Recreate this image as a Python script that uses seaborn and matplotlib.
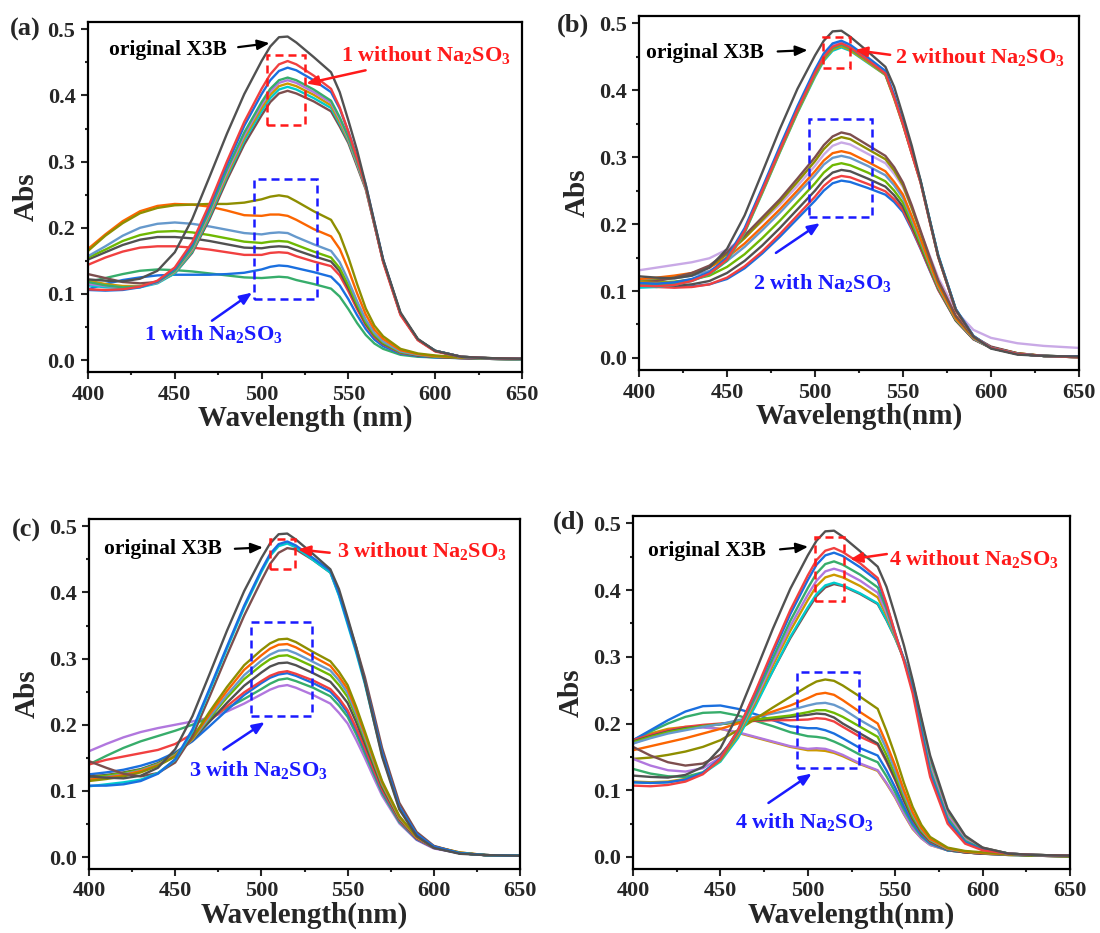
import numpy as np
import pandas as pd
import matplotlib
matplotlib.use("Agg")
import matplotlib.pyplot as plt
import matplotlib.patches as patches
from matplotlib.ticker import MultipleLocator, FormatStrFormatter
import seaborn as sns

# ---------------- data ----------------
WAVELENGTH = [400, 410, 420, 430, 440, 450, 460, 470, 480, 490, 500, 505, 510, 515,
              520, 530, 540, 545, 550, 555, 560, 565, 570, 580, 590, 600, 615, 630, 650]

ORIGINAL_X3B = [0.122, 0.120, 0.119, 0.123, 0.135, 0.163, 0.213, 0.277, 0.342, 0.402, 0.452, 0.474, 0.488, 0.489, 0.480, 0.458, 0.435,
                0.405, 0.362, 0.317, 0.265, 0.208, 0.152, 0.072, 0.032, 0.014, 0.005, 0.003, 0.002]

# ---- panel (a) ----
A_WO_RED = [0.107, 0.106, 0.107, 0.111, 0.120, 0.140, 0.178, 0.236, 0.300, 0.360, 0.410, 0.432, 0.447, 0.452, 0.447, 0.430, 0.410,
            0.382, 0.345, 0.305, 0.262, 0.205, 0.148, 0.068, 0.030, 0.013, 0.005, 0.003, 0.002]
A_WO_BLUE = [0.106, 0.105, 0.106, 0.110, 0.119, 0.138, 0.175, 0.232, 0.295, 0.354, 0.402, 0.423, 0.437, 0.442, 0.438, 0.423, 0.405,
             0.380, 0.345, 0.307, 0.265, 0.208, 0.152, 0.070, 0.031, 0.014, 0.005, 0.003, 0.002]
A_WO_GREEN = [0.118, 0.113, 0.110, 0.111, 0.118, 0.135, 0.170, 0.226, 0.288, 0.344, 0.390, 0.410, 0.423, 0.427, 0.423, 0.409, 0.392,
              0.367, 0.337, 0.300, 0.262, 0.206, 0.150, 0.070, 0.031, 0.014, 0.005, 0.003, 0.002]
A_WO_PURPLE = [0.115, 0.112, 0.110, 0.111, 0.117, 0.134, 0.168, 0.223, 0.284, 0.340, 0.386, 0.406, 0.419, 0.423, 0.419, 0.405, 0.389,
               0.364, 0.335, 0.298, 0.261, 0.205, 0.150, 0.070, 0.031, 0.014, 0.005, 0.003, 0.002]
A_WO_MUSTARD = [0.120, 0.115, 0.112, 0.112, 0.117, 0.133, 0.166, 0.220, 0.280, 0.336, 0.381, 0.401, 0.414, 0.418, 0.414, 0.401, 0.385,
                0.360, 0.333, 0.297, 0.260, 0.205, 0.150, 0.070, 0.031, 0.014, 0.005, 0.003, 0.002]
A_WO_CYAN = [0.113, 0.110, 0.109, 0.110, 0.116, 0.131, 0.164, 0.217, 0.277, 0.332, 0.376, 0.396, 0.409, 0.413, 0.409, 0.396, 0.381,
             0.357, 0.331, 0.296, 0.260, 0.205, 0.150, 0.070, 0.031, 0.014, 0.005, 0.003, 0.002]
A_WO_BROWN = [0.130, 0.124, 0.118, 0.116, 0.118, 0.131, 0.162, 0.213, 0.272, 0.326, 0.370, 0.390, 0.403, 0.407, 0.403, 0.391, 0.376,
              0.353, 0.328, 0.293, 0.258, 0.204, 0.150, 0.070, 0.031, 0.014, 0.005, 0.003, 0.002]
A_W_OLIVE = [0.165, 0.188, 0.207, 0.222, 0.230, 0.234, 0.235, 0.236, 0.236, 0.238, 0.243, 0.247, 0.249, 0.247, 0.240, 0.225, 0.212,
             0.190, 0.155, 0.115, 0.078, 0.052, 0.036, 0.017, 0.010, 0.007, 0.004, 0.003, 0.002]
A_W_ORANGE = [0.168, 0.190, 0.210, 0.225, 0.233, 0.236, 0.235, 0.232, 0.226, 0.219, 0.218, 0.220, 0.220, 0.218, 0.212, 0.198, 0.187,
              0.168, 0.137, 0.101, 0.069, 0.046, 0.032, 0.015, 0.009, 0.006, 0.004, 0.003, 0.002]
A_W_STEEL = [0.157, 0.172, 0.188, 0.200, 0.206, 0.208, 0.206, 0.202, 0.197, 0.192, 0.190, 0.192, 0.193, 0.192, 0.186, 0.175, 0.165,
             0.148, 0.120, 0.089, 0.061, 0.041, 0.028, 0.013, 0.008, 0.006, 0.004, 0.002, 0.001]
A_W_LIME = [0.155, 0.167, 0.180, 0.189, 0.194, 0.195, 0.193, 0.189, 0.184, 0.179, 0.177, 0.179, 0.180, 0.179, 0.174, 0.164, 0.155,
            0.139, 0.113, 0.084, 0.057, 0.038, 0.026, 0.012, 0.008, 0.005, 0.004, 0.002, 0.001]
A_W_GRAY = [0.152, 0.163, 0.174, 0.182, 0.186, 0.186, 0.184, 0.180, 0.175, 0.170, 0.169, 0.171, 0.172, 0.171, 0.166, 0.157, 0.149,
            0.134, 0.109, 0.081, 0.055, 0.037, 0.025, 0.012, 0.007, 0.005, 0.003, 0.002, 0.001]
A_W_RED = [0.144, 0.155, 0.164, 0.170, 0.172, 0.172, 0.170, 0.167, 0.163, 0.159, 0.159, 0.162, 0.163, 0.162, 0.157, 0.149, 0.142,
           0.128, 0.104, 0.077, 0.053, 0.035, 0.024, 0.011, 0.007, 0.005, 0.003, 0.002, 0.001]
A_W_BLUE = [0.107, 0.115, 0.121, 0.125, 0.128, 0.129, 0.129, 0.129, 0.130, 0.132, 0.137, 0.141, 0.143, 0.142, 0.139, 0.133, 0.126,
            0.113, 0.092, 0.068, 0.047, 0.031, 0.021, 0.010, 0.006, 0.004, 0.003, 0.002, 0.001]
A_W_GREEN = [0.118, 0.124, 0.130, 0.135, 0.137, 0.136, 0.134, 0.131, 0.128, 0.125, 0.124, 0.125, 0.126, 0.125, 0.121, 0.115, 0.108,
             0.096, 0.077, 0.056, 0.038, 0.025, 0.017, 0.008, 0.005, 0.004, 0.003, 0.002, 0.001]

# ---- panel (b) ----
B_WO_BLUE = [0.112, 0.111, 0.113, 0.118, 0.128, 0.150, 0.194, 0.254, 0.316, 0.376, 0.431, 0.455, 0.470, 0.474, 0.468, 0.449, 0.429,
             0.393, 0.352, 0.308, 0.264, 0.208, 0.153, 0.073, 0.033, 0.015, 0.006, 0.003, 0.002]
B_WO_PURPLE = [0.109, 0.109, 0.111, 0.116, 0.127, 0.148, 0.192, 0.252, 0.313, 0.373, 0.428, 0.452, 0.467, 0.471, 0.465, 0.446, 0.426,
               0.390, 0.350, 0.306, 0.263, 0.207, 0.152, 0.072, 0.032, 0.015, 0.006, 0.003, 0.001]
B_WO_RED = [0.108, 0.107, 0.109, 0.115, 0.126, 0.147, 0.190, 0.250, 0.311, 0.371, 0.426, 0.450, 0.465, 0.470, 0.464, 0.445, 0.425,
            0.389, 0.349, 0.305, 0.262, 0.206, 0.151, 0.071, 0.032, 0.015, 0.006, 0.003, 0.001]
B_WO_GREEN = [0.111, 0.110, 0.111, 0.116, 0.126, 0.146, 0.189, 0.249, 0.310, 0.369, 0.424, 0.448, 0.463, 0.468, 0.462, 0.444, 0.424,
              0.389, 0.349, 0.306, 0.263, 0.207, 0.152, 0.072, 0.032, 0.015, 0.006, 0.003, 0.001]
B_WO_MUSTARD = [0.113, 0.112, 0.113, 0.117, 0.126, 0.146, 0.188, 0.247, 0.308, 0.367, 0.422, 0.446, 0.461, 0.466, 0.460, 0.442, 0.423,
                0.387, 0.348, 0.305, 0.262, 0.206, 0.151, 0.071, 0.032, 0.015, 0.006, 0.003, 0.001]
B_WO_CYAN = [0.105, 0.106, 0.109, 0.115, 0.125, 0.145, 0.187, 0.246, 0.307, 0.366, 0.420, 0.444, 0.459, 0.464, 0.459, 0.441, 0.423,
             0.389, 0.350, 0.307, 0.265, 0.209, 0.154, 0.073, 0.033, 0.015, 0.006, 0.003, 0.001]
B_W_BROWN = [0.112, 0.115, 0.120, 0.127, 0.138, 0.158, 0.183, 0.210, 0.237, 0.268, 0.300, 0.318, 0.331, 0.337, 0.334, 0.318, 0.302,
             0.285, 0.262, 0.228, 0.190, 0.152, 0.116, 0.063, 0.032, 0.017, 0.007, 0.003, 0.002]
B_W_OLIVE = [0.114, 0.116, 0.120, 0.126, 0.136, 0.155, 0.179, 0.206, 0.233, 0.263, 0.294, 0.312, 0.325, 0.330, 0.327, 0.312, 0.297,
             0.280, 0.258, 0.224, 0.187, 0.150, 0.114, 0.062, 0.031, 0.016, 0.007, 0.003, 0.002]
B_W_LILAC = [0.131, 0.135, 0.139, 0.143, 0.149, 0.162, 0.181, 0.204, 0.229, 0.257, 0.287, 0.304, 0.317, 0.322, 0.319, 0.305, 0.291,
             0.275, 0.255, 0.223, 0.188, 0.154, 0.120, 0.070, 0.042, 0.030, 0.022, 0.018, 0.015]
B_W_ORANGE = [0.118, 0.120, 0.123, 0.127, 0.135, 0.150, 0.171, 0.196, 0.222, 0.250, 0.279, 0.295, 0.306, 0.309, 0.306, 0.293, 0.279,
              0.263, 0.244, 0.212, 0.178, 0.143, 0.109, 0.059, 0.030, 0.016, 0.007, 0.003, 0.002]
B_W_STEEL = [0.116, 0.117, 0.119, 0.123, 0.130, 0.145, 0.166, 0.191, 0.217, 0.245, 0.273, 0.289, 0.299, 0.302, 0.299, 0.287, 0.273,
             0.258, 0.239, 0.208, 0.175, 0.141, 0.107, 0.058, 0.029, 0.015, 0.006, 0.003, 0.002]
B_W_LIME = [0.113, 0.113, 0.114, 0.117, 0.123, 0.136, 0.155, 0.179, 0.205, 0.233, 0.261, 0.277, 0.288, 0.291, 0.288, 0.277, 0.264,
            0.250, 0.232, 0.202, 0.170, 0.137, 0.105, 0.057, 0.029, 0.015, 0.006, 0.003, 0.002]
B_W_GRAY = [0.109, 0.108, 0.108, 0.110, 0.115, 0.127, 0.145, 0.168, 0.194, 0.222, 0.250, 0.266, 0.277, 0.281, 0.279, 0.268, 0.256,
            0.243, 0.226, 0.198, 0.167, 0.135, 0.104, 0.056, 0.028, 0.015, 0.006, 0.003, 0.001]
B_W_RED = [0.108, 0.106, 0.105, 0.106, 0.110, 0.120, 0.137, 0.159, 0.185, 0.213, 0.241, 0.257, 0.268, 0.272, 0.270, 0.260, 0.249,
           0.237, 0.221, 0.194, 0.164, 0.133, 0.102, 0.056, 0.028, 0.015, 0.006, 0.003, 0.001]
B_W_BLUE = [0.112, 0.108, 0.106, 0.107, 0.110, 0.118, 0.134, 0.156, 0.181, 0.208, 0.235, 0.250, 0.261, 0.265, 0.263, 0.254, 0.244,
            0.233, 0.218, 0.192, 0.163, 0.132, 0.102, 0.056, 0.029, 0.015, 0.006, 0.003, 0.002]

# ---- panel (c) ----
C_WO_BLUE = [0.108, 0.108, 0.110, 0.115, 0.126, 0.148, 0.193, 0.255, 0.318, 0.380, 0.434, 0.458, 0.473, 0.477, 0.471, 0.452, 0.433,
             0.398, 0.355, 0.312, 0.265, 0.212, 0.158, 0.076, 0.035, 0.016, 0.006, 0.003, 0.002]
C_WO_CYAN = [0.107, 0.110, 0.113, 0.117, 0.127, 0.147, 0.190, 0.252, 0.315, 0.377, 0.431, 0.455, 0.470, 0.474, 0.468, 0.449, 0.430,
             0.395, 0.352, 0.309, 0.262, 0.208, 0.155, 0.074, 0.034, 0.015, 0.006, 0.003, 0.002]
C_WO_BROWN = [0.145, 0.135, 0.126, 0.122, 0.127, 0.143, 0.183, 0.243, 0.305, 0.365, 0.418, 0.443, 0.460, 0.467, 0.465, 0.449, 0.430,
              0.397, 0.358, 0.317, 0.272, 0.219, 0.165, 0.082, 0.038, 0.017, 0.006, 0.003, 0.002]
C_W_OLIVE = [0.115, 0.118, 0.122, 0.128, 0.138, 0.152, 0.180, 0.220, 0.257, 0.290, 0.313, 0.323, 0.329, 0.330, 0.325, 0.310, 0.296,
             0.280, 0.260, 0.227, 0.190, 0.152, 0.115, 0.062, 0.031, 0.016, 0.007, 0.003, 0.002]
C_W_ORANGE = [0.117, 0.120, 0.124, 0.130, 0.139, 0.153, 0.179, 0.216, 0.251, 0.283, 0.305, 0.315, 0.321, 0.322, 0.317, 0.303, 0.289,
              0.273, 0.254, 0.222, 0.186, 0.149, 0.113, 0.061, 0.030, 0.016, 0.007, 0.003, 0.002]
C_W_STEEL = [0.118, 0.121, 0.125, 0.131, 0.140, 0.154, 0.178, 0.212, 0.245, 0.275, 0.297, 0.306, 0.312, 0.313, 0.308, 0.295, 0.282,
             0.267, 0.248, 0.217, 0.182, 0.146, 0.111, 0.060, 0.030, 0.015, 0.006, 0.003, 0.002]
C_W_LIME = [0.120, 0.123, 0.127, 0.132, 0.141, 0.155, 0.178, 0.210, 0.241, 0.269, 0.290, 0.299, 0.304, 0.305, 0.300, 0.288, 0.275,
            0.260, 0.242, 0.212, 0.178, 0.143, 0.109, 0.059, 0.030, 0.015, 0.006, 0.003, 0.002]
C_W_GRAY = [0.122, 0.124, 0.128, 0.133, 0.142, 0.156, 0.177, 0.205, 0.233, 0.259, 0.279, 0.288, 0.293, 0.294, 0.290, 0.278, 0.265,
            0.250, 0.233, 0.204, 0.172, 0.139, 0.106, 0.058, 0.029, 0.015, 0.006, 0.003, 0.002]
C_W_RED = [0.140, 0.147, 0.152, 0.157, 0.162, 0.171, 0.186, 0.206, 0.228, 0.249, 0.266, 0.274, 0.279, 0.281, 0.277, 0.267, 0.254,
           0.240, 0.222, 0.195, 0.165, 0.133, 0.102, 0.056, 0.028, 0.014, 0.006, 0.003, 0.002]
C_W_BLUE = [0.125, 0.128, 0.132, 0.138, 0.146, 0.158, 0.175, 0.198, 0.222, 0.245, 0.263, 0.271, 0.276, 0.278, 0.274, 0.263, 0.250,
            0.236, 0.218, 0.192, 0.162, 0.131, 0.100, 0.055, 0.027, 0.014, 0.006, 0.003, 0.002]
C_W_GREEN = [0.140, 0.153, 0.165, 0.175, 0.183, 0.191, 0.200, 0.211, 0.225, 0.239, 0.254, 0.262, 0.268, 0.270, 0.266, 0.256, 0.243,
             0.229, 0.212, 0.186, 0.157, 0.127, 0.097, 0.053, 0.027, 0.014, 0.006, 0.003, 0.002]
C_W_PURPLE = [0.160, 0.171, 0.181, 0.189, 0.195, 0.200, 0.205, 0.211, 0.220, 0.232, 0.246, 0.253, 0.258, 0.260, 0.256, 0.245, 0.232,
              0.218, 0.202, 0.177, 0.150, 0.121, 0.093, 0.051, 0.026, 0.013, 0.006, 0.003, 0.002]

# ---- panel (d) ----
D_WO_RED = [0.107, 0.106, 0.108, 0.113, 0.124, 0.147, 0.190, 0.248, 0.310, 0.370, 0.422, 0.445, 0.459, 0.463, 0.457, 0.440, 0.418,
            0.380, 0.335, 0.293, 0.245, 0.180, 0.120, 0.050, 0.020, 0.010, 0.005, 0.003, 0.002]
D_WO_BLUE = [0.112, 0.111, 0.112, 0.116, 0.126, 0.148, 0.190, 0.246, 0.306, 0.364, 0.415, 0.438, 0.452, 0.456, 0.451, 0.434, 0.414,
             0.378, 0.335, 0.295, 0.250, 0.187, 0.125, 0.054, 0.022, 0.011, 0.005, 0.003, 0.002]
D_WO_GREEN = [0.132, 0.125, 0.121, 0.120, 0.127, 0.146, 0.186, 0.240, 0.298, 0.354, 0.403, 0.425, 0.439, 0.443, 0.438, 0.423, 0.404,
              0.372, 0.333, 0.296, 0.255, 0.193, 0.130, 0.058, 0.024, 0.012, 0.005, 0.003, 0.002]
D_WO_PURPLE = [0.147, 0.137, 0.130, 0.128, 0.133, 0.149, 0.185, 0.236, 0.292, 0.346, 0.393, 0.414, 0.428, 0.432, 0.428, 0.414, 0.396,
               0.366, 0.332, 0.297, 0.258, 0.197, 0.135, 0.062, 0.026, 0.012, 0.005, 0.003, 0.002]
D_WO_MUSTARD = [0.113, 0.112, 0.113, 0.117, 0.126, 0.145, 0.182, 0.232, 0.287, 0.339, 0.385, 0.406, 0.419, 0.423, 0.419, 0.406, 0.389,
                0.362, 0.330, 0.296, 0.258, 0.198, 0.137, 0.064, 0.027, 0.013, 0.005, 0.003, 0.002]
D_WO_CYAN = [0.112, 0.111, 0.112, 0.116, 0.125, 0.143, 0.178, 0.226, 0.279, 0.330, 0.374, 0.394, 0.407, 0.411, 0.407, 0.395, 0.380,
             0.356, 0.328, 0.296, 0.260, 0.200, 0.140, 0.066, 0.028, 0.013, 0.005, 0.003, 0.002]
D_WO_BROWN = [0.165, 0.152, 0.142, 0.137, 0.140, 0.153, 0.184, 0.229, 0.279, 0.328, 0.371, 0.391, 0.404, 0.409, 0.406, 0.394, 0.379,
              0.355, 0.328, 0.297, 0.262, 0.205, 0.145, 0.070, 0.030, 0.014, 0.005, 0.003, 0.002]
D_W_OLIVE = [0.147, 0.149, 0.153, 0.158, 0.165, 0.175, 0.190, 0.207, 0.224, 0.240, 0.256, 0.263, 0.266, 0.264, 0.257, 0.240, 0.222,
             0.189, 0.152, 0.111, 0.075, 0.048, 0.030, 0.014, 0.009, 0.007, 0.004, 0.003, 0.002]
D_W_ORANGE = [0.160, 0.166, 0.172, 0.178, 0.185, 0.192, 0.200, 0.209, 0.218, 0.227, 0.238, 0.244, 0.246, 0.243, 0.235, 0.217, 0.200,
              0.170, 0.137, 0.100, 0.067, 0.043, 0.027, 0.013, 0.008, 0.006, 0.004, 0.003, 0.002]
D_W_STEEL = [0.170, 0.178, 0.185, 0.190, 0.195, 0.199, 0.205, 0.210, 0.215, 0.220, 0.227, 0.230, 0.231, 0.228, 0.222, 0.205, 0.190,
             0.162, 0.130, 0.095, 0.064, 0.041, 0.026, 0.012, 0.008, 0.006, 0.004, 0.003, 0.002]
D_W_LIME = [0.172, 0.180, 0.187, 0.192, 0.196, 0.199, 0.203, 0.206, 0.209, 0.212, 0.217, 0.220, 0.220, 0.216, 0.210, 0.195, 0.180,
            0.153, 0.123, 0.090, 0.060, 0.039, 0.025, 0.012, 0.008, 0.006, 0.004, 0.002, 0.001]
D_W_GRAY = [0.173, 0.181, 0.188, 0.193, 0.196, 0.199, 0.202, 0.205, 0.207, 0.210, 0.213, 0.215, 0.214, 0.209, 0.200, 0.185, 0.170,
            0.145, 0.117, 0.085, 0.057, 0.037, 0.024, 0.011, 0.007, 0.005, 0.004, 0.002, 0.001]
D_W_RED = [0.175, 0.183, 0.190, 0.195, 0.198, 0.200, 0.202, 0.204, 0.205, 0.205, 0.206, 0.208, 0.207, 0.203, 0.195, 0.180, 0.168,
           0.143, 0.115, 0.084, 0.056, 0.036, 0.023, 0.011, 0.007, 0.005, 0.004, 0.002, 0.001]
D_W_BLUE = [0.175, 0.190, 0.205, 0.218, 0.226, 0.227, 0.222, 0.214, 0.205, 0.196, 0.193, 0.193, 0.190, 0.185, 0.178, 0.163, 0.152,
            0.130, 0.104, 0.076, 0.051, 0.033, 0.021, 0.010, 0.007, 0.005, 0.004, 0.002, 0.001]
D_W_GREEN = [0.175, 0.188, 0.200, 0.210, 0.216, 0.217, 0.212, 0.204, 0.196, 0.187, 0.181, 0.180, 0.178, 0.173, 0.167, 0.153, 0.142,
             0.121, 0.097, 0.071, 0.048, 0.031, 0.020, 0.010, 0.007, 0.005, 0.003, 0.002, 0.001]
D_W_PURPLE = [0.170, 0.180, 0.188, 0.193, 0.194, 0.192, 0.187, 0.180, 0.173, 0.166, 0.162, 0.163, 0.162, 0.158, 0.153, 0.140, 0.130,
              0.111, 0.090, 0.065, 0.043, 0.028, 0.018, 0.010, 0.007, 0.005, 0.003, 0.002, 0.001]
D_W_MUSTARD = [0.175, 0.185, 0.192, 0.195, 0.195, 0.192, 0.186, 0.179, 0.172, 0.165, 0.160, 0.160, 0.159, 0.156, 0.151, 0.139, 0.129,
               0.110, 0.089, 0.064, 0.042, 0.028, 0.018, 0.010, 0.007, 0.005, 0.003, 0.002, 0.001]

X_TICKS = [400, 450, 500, 550, 600, 650]
Y_TICKS = [0.0, 0.1, 0.2, 0.3, 0.4, 0.5]
PANEL_LETTERS = ["(a)", "(b)", "(c)", "(d)"]
X_LABELS = ["Wavelength (nm)", "Wavelength(nm)", "Wavelength(nm)", "Wavelength(nm)"]
Y_LABEL = "Abs"
ORIG_TEXT = "original X3B"
WITHOUT_TEXT = [r"%d without Na$_\mathregular{2}$SO$_\mathregular{3}$" % i for i in (1, 2, 3, 4)]
WITH_TEXT = [r"%d with Na$_\mathregular{2}$SO$_\mathregular{3}$" % i for i in (1, 2, 3, 4)]

# ---------------- style ----------------
COL = {
    "gray": "#515151", "red": "#F14040", "blue": "#1A6FDF", "green": "#37AD6B",
    "purple": "#B177DE", "mustard": "#CC9900", "cyan": "#00CBCC", "brown": "#7D4E4E",
    "olive": "#8E8E00", "orange": "#FB6501", "steel": "#6699CC", "lime": "#6FB802",
    "lilac": "#C9A9E6",
}

PANELS = [
    [("gray", ORIGINAL_X3B), ("red", A_WO_RED), ("blue", A_WO_BLUE), ("green", A_WO_GREEN),
     ("purple", A_WO_PURPLE), ("mustard", A_WO_MUSTARD), ("cyan", A_WO_CYAN), ("brown", A_WO_BROWN),
     ("olive", A_W_OLIVE), ("orange", A_W_ORANGE), ("steel", A_W_STEEL), ("lime", A_W_LIME),
     ("gray", A_W_GRAY), ("red", A_W_RED), ("blue", A_W_BLUE), ("green", A_W_GREEN)],
    [("gray", ORIGINAL_X3B), ("red", B_WO_RED), ("blue", B_WO_BLUE), ("green", B_WO_GREEN),
     ("purple", B_WO_PURPLE), ("mustard", B_WO_MUSTARD), ("cyan", B_WO_CYAN),
     ("brown", B_W_BROWN), ("olive", B_W_OLIVE), ("lilac", B_W_LILAC), ("orange", B_W_ORANGE),
     ("steel", B_W_STEEL), ("lime", B_W_LIME), ("gray", B_W_GRAY), ("red", B_W_RED), ("blue", B_W_BLUE)],
    [("gray", ORIGINAL_X3B), ("blue", C_WO_BLUE), ("cyan", C_WO_CYAN), ("brown", C_WO_BROWN),
     ("olive", C_W_OLIVE), ("orange", C_W_ORANGE), ("steel", C_W_STEEL), ("lime", C_W_LIME),
     ("gray", C_W_GRAY), ("red", C_W_RED), ("blue", C_W_BLUE), ("green", C_W_GREEN), ("purple", C_W_PURPLE)],
    [("gray", ORIGINAL_X3B), ("red", D_WO_RED), ("blue", D_WO_BLUE), ("green", D_WO_GREEN),
     ("purple", D_WO_PURPLE), ("mustard", D_WO_MUSTARD), ("cyan", D_WO_CYAN), ("brown", D_WO_BROWN),
     ("olive", D_W_OLIVE), ("orange", D_W_ORANGE), ("steel", D_W_STEEL), ("lime", D_W_LIME),
     ("gray", D_W_GRAY), ("red", D_W_RED), ("blue", D_W_BLUE), ("green", D_W_GREEN),
     ("purple", D_W_PURPLE), ("mustard", D_W_MUSTARD)],
]

# axes rectangles in pixels: left, top, right, bottom
W_PX, H_PX = 1100, 933
AX_PX = [(88, 22, 522, 372), (639, 16, 1079, 370), (89, 519, 520, 869), (633, 516, 1070, 869)]
LETTER_PX = [(10, 29), (557, 25), (12, 530), (553, 522)]

# annotation layout in data coords
ANN = [
    dict(orig=(412, 0.469), oarr=((486.5, 0.473), (504.6, 0.479)),
         rrect=(503, 0.355, 22, 0.106), rtext=(545.5, 0.461), rarr=((559.9, 0.438), (525.7, 0.418)),
         brect=(495.9, 0.093, 35.8, 0.180), btext=(432.2, 0.039), barr=((471.4, 0.0595), (494.5, 0.102))),
    dict(orig=(404, 0.455), oarr=((478.8, 0.458), (495.8, 0.460)),
         rrect=(504.7, 0.433, 15.0, 0.047), rtext=(545.6, 0.450), rarr=((542.7, 0.453), (522.7, 0.460)),
         brect=(496.8, 0.211, 35.5, 0.146), btext=(464.8, 0.112), barr=((477.8, 0.157), (502.8, 0.2015))),
    dict(orig=(408.8, 0.465), oarr=((484.6, 0.466), (500.9, 0.468)),
         rrect=(504.9, 0.435, 14.7, 0.046), rtext=(543.6, 0.462), rarr=((539.6, 0.460), (521.2, 0.465)),
         brect=(493.7, 0.213, 35.7, 0.143), btext=(458.1, 0.131), barr=((478.0, 0.1625), (501.9, 0.204))),
    dict(orig=(408.6, 0.459), oarr=((484.1, 0.461), (500.2, 0.465)),
         rrect=(504.2, 0.384, 16.6, 0.095), rtext=(546.2, 0.446), rarr=((545.2, 0.454), (524.2, 0.446)),
         brect=(493.8, 0.133, 35.4, 0.144), btext=(458.1, 0.053), barr=((477.5, 0.081), (502.2, 0.125))),
]

sns.set_style("ticks")
FONT = ["Liberation Serif", "DejaVu Serif"]
plt.rcParams["font.family"] = FONT
plt.rcParams["font.weight"] = "bold"
plt.rcParams["mathtext.fontset"] = "custom"
plt.rcParams["mathtext.rm"] = "Liberation Serif:bold"
plt.rcParams["mathtext.it"] = "Liberation Serif:italic:bold"
plt.rcParams["mathtext.bf"] = "Liberation Serif:bold"
plt.rcParams["axes.linewidth"] = 1.5

fig = plt.figure(figsize=(11, 9.33), dpi=100)
fig.patch.set_facecolor("white")

for i, (curves, box, let, ann) in enumerate(zip(PANELS, AX_PX, LETTER_PX, ANN)):
    l, t, r, b = box
    ax = fig.add_axes([l / W_PX, 1 - b / H_PX, (r - l) / W_PX, (b - t) / H_PX])
    ax.set_facecolor("white")
    # draw "with" group first, then "without", original on top
    for cname, vals in reversed(curves):
        df = pd.DataFrame({"wl": WAVELENGTH, "abs": vals})
        sns.lineplot(data=df, x="wl", y="abs", ax=ax, color=COL[cname], lw=1.7, legend=False)
    ax.set_xlim(400, 650)
    ax.set_ylim(-0.018, 0.511)
    ax.set_xticks(X_TICKS)
    ax.set_yticks(Y_TICKS)
    ax.xaxis.set_minor_locator(MultipleLocator(25))
    ax.yaxis.set_minor_locator(MultipleLocator(0.05))
    ax.yaxis.set_major_formatter(FormatStrFormatter("%.1f"))
    ax.tick_params(which="major", direction="out", length=5, width=1.5, labelsize=16, pad=4)
    ax.tick_params(which="minor", direction="out", length=2.5, width=1.5)
    for lab in ax.get_xticklabels() + ax.get_yticklabels():
        lab.set_fontweight("bold")
    for sp in ax.spines.values():
        sp.set_visible(True)
        sp.set_linewidth(1.6)
        sp.set_color("black")
    ax.set_xlabel(X_LABELS[i], fontsize=21, fontweight="bold", labelpad=0)
    ax.set_ylabel(Y_LABEL, fontsize=21, fontweight="bold", labelpad=6)

    # annotations
    ax.text(ann["orig"][0], ann["orig"][1], ORIG_TEXT, color="black", fontsize=15.5,
            fontweight="bold", ha="left", va="center")
    ax.annotate("", xy=ann["oarr"][1], xytext=ann["oarr"][0],
                arrowprops=dict(arrowstyle="-|>,head_length=0.6,head_width=0.25",
                                color="black", lw=1.6, mutation_scale=12, shrinkA=0, shrinkB=0))
    rx, ry, rw, rh = ann["rrect"]
    ax.add_patch(patches.Rectangle((rx, ry), rw, rh, fill=False, ec="#FF1A1A", lw=1.8,
                                   ls=(0, (3.2, 2.0)), zorder=5))
    ax.text(ann["rtext"][0], ann["rtext"][1], WITHOUT_TEXT[i], color="#FF1A1A", fontsize=16,
            fontweight="bold", ha="left", va="center")
    ax.annotate("", xy=ann["rarr"][1], xytext=ann["rarr"][0],
                arrowprops=dict(arrowstyle="-|>,head_length=0.6,head_width=0.25",
                                color="#FF1A1A", lw=1.8, mutation_scale=12, shrinkA=0, shrinkB=0))
    bx, by, bw, bh = ann["brect"]
    ax.add_patch(patches.Rectangle((bx, by), bw, bh, fill=False, ec="#1A1AFF", lw=1.8,
                                   ls=(0, (3.2, 2.0)), zorder=5))
    ax.text(ann["btext"][0], ann["btext"][1], WITH_TEXT[i], color="#1A1AFF", fontsize=16,
            fontweight="bold", ha="left", va="center")
    ax.annotate("", xy=ann["barr"][1], xytext=ann["barr"][0],
                arrowprops=dict(arrowstyle="-|>,head_length=0.6,head_width=0.25",
                                color="#1A1AFF", lw=1.8, mutation_scale=12, shrinkA=0, shrinkB=0))

    fig.text(let[0] / W_PX, 1 - let[1] / H_PX, PANEL_LETTERS[i], fontsize=19,
             fontweight="bold", ha="left", va="center")

fig.savefig("out.png", dpi=100, facecolor="white")
